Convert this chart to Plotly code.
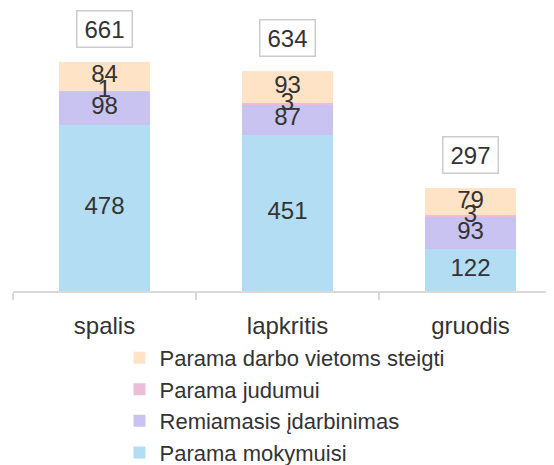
import plotly.graph_objects as go

categories = ["spalis", "lapkritis", "gruodis"]
series_names = ["Parama mokymuisi", "Remiamasis įdarbinimas", "Parama judumui", "Parama darbo vietoms steigti"]
mokymuisi = [478, 451, 122]
idarbinimas = [98, 87, 93]
judumui = [1, 3, 3]
steigti = [84, 93, 79]
totals = [661, 634, 297]

colors = ["#B3DDF3", "#C9C3F2", "#EDBCD9", "#FFE3C6"]
FONT = "Liberation Sans, Arial, sans-serif"
TXT = "#333333"
FS = 24

xpos = list(range(len(categories)))
series = [mokymuisi, idarbinimas, judumui, steigti]

fig = go.Figure()
for name, vals, col in zip(series_names, series, colors):
    fig.add_trace(go.Bar(
        x=xpos, y=vals, name=name, marker=dict(color=col, line=dict(width=0)),
        width=0.5, hoverinfo="skip",
    ))

# segment labels drawn on top of all bars (centre of each stacked segment)
lx, ly, lt = [], [], []
base = [0] * len(categories)
for vals in series:
    for i, v in enumerate(vals):
        lx.append(xpos[i])
        ly.append(base[i] + v / 2)
        lt.append(str(v))
        base[i] += v
fig.add_trace(go.Scatter(
    x=lx, y=ly, text=lt, mode="text", textposition="middle center",
    textfont=dict(family=FONT, size=FS, color=TXT), showlegend=False,
    hoverinfo="skip", cliponaxis=False,
))

for x, t in zip(xpos, totals):
    fig.add_annotation(
        x=x, y=t, text=str(t), showarrow=False, yanchor="bottom", yshift=14,
        font=dict(family=FONT, size=FS, color=TXT),
        bordercolor="#cccccc", borderwidth=1.5, borderpad=1, bgcolor="white",
        width=52, height=33,
    )

fig.update_layout(
    width=554, height=465, barmode="stack",
    margin=dict(l=5, r=0, t=0, b=182, autoexpand=False),
    plot_bgcolor="white", paper_bgcolor="white",
    font=dict(family=FONT, size=FS, color=TXT),
    showlegend=True,
    legend=dict(traceorder="reversed", x=0.194, xanchor="left", y=-0.162, yanchor="top",
                font=dict(family=FONT, size=22, color=TXT), bgcolor="rgba(0,0,0,0)",
                itemclick=False),
    xaxis=dict(
        range=[-0.5, 2.5], tickmode="array", tickvals=xpos, ticktext=categories,
        showline=True, linecolor="#d9d9d9", linewidth=1.5, showgrid=False, zeroline=False,
        ticks="outside", ticklen=7, tickcolor="rgba(0,0,0,0)", ticklabelstandoff=5,
        tickfont=dict(family=FONT, size=FS, color=TXT),
        minor=dict(tickmode="array", tickvals=[-0.5, 0.5, 1.5], ticks="outside", ticklen=7,
                   tickwidth=1.5, tickcolor="#d9d9d9", showgrid=False),
        fixedrange=True,
    ),
    yaxis=dict(range=[0, 815.6], visible=False, showgrid=False, fixedrange=True),
)

fig.write_html("out.html")
